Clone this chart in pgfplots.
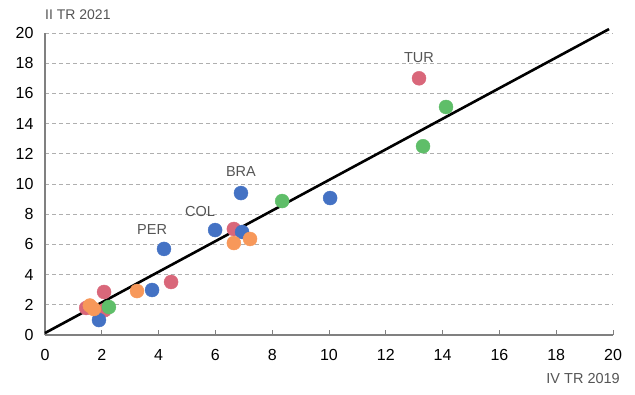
\documentclass[border=0pt]{standalone}
\usepackage{pgfplots}
\pgfplotsset{compat=1.18}
\usepackage{fontspec}
\setmainfont{Liberation Sans}
\usetikzlibrary{calc}
\definecolor{cred}{RGB}{217,103,122}
\definecolor{cblue}{RGB}{68,114,196}
\definecolor{cgreen}{RGB}{95,190,105}
\definecolor{corange}{RGB}{247,152,90}
\definecolor{axgray}{RGB}{128,128,128}
\definecolor{gridgray}{RGB}{175,175,175}
\definecolor{txtgray}{RGB}{85,85,85}
\begin{document}
\begin{tikzpicture}
\begin{axis}[
  name=ax,
  scale only axis,
  width=568pt, height=302pt,
  xmin=0, xmax=20, ymin=0, ymax=20,
  xtick={0,2,...,20}, ytick={0,2,...,20},
  axis x line*=bottom, axis y line*=left,
  axis line style={draw=axgray, line width=1.1pt, -},
  x tick style={draw=axgray, line width=0.8pt},
  tick align=inside,
  major tick length=5pt,
  y tick style={draw=none},
  ymajorgrids,
  grid style={draw=gridgray, dash pattern=on 4pt off 3pt, line width=0.7pt},
  tick label style={font=\fontsize{16}{18}\selectfont, text=black},
  /pgf/number format/assume math mode=true,
  xticklabel style={yshift=-11pt},
  yticklabel style={xshift=-8pt},
  clip=false,
  mark size=7pt,
]
\addplot[only marks, mark=*, color=cred] coordinates {
  (13.17,17.0) (6.65,7.02) (4.44,3.51) (2.08,2.85) (1.45,1.79) (2.1,1.65)
};
\addplot[only marks, mark=*, color=cblue] coordinates {
  (10.04,9.07) (6.90,9.40) (5.99,6.95) (6.94,6.82) (4.19,5.70) (3.77,2.98) (1.90,0.99)
};
\addplot[only marks, mark=*, color=cgreen] coordinates {
  (14.12,15.1) (13.31,12.5) (8.35,8.87) (2.25,1.85)
};
\addplot[only marks, mark=*, color=corange] coordinates {
  (6.65,6.09) (7.22,6.36) (3.24,2.91) (1.58,1.95) (1.72,1.72)
};
\addplot[black, line width=2.6pt, no marks] coordinates {(0,0.13) (19.86,20.26)};
\node[text=txtgray, font=\fontsize{14.5}{16}\selectfont] at (axis cs:13.17,18.4) {TUR};
\node[text=txtgray, font=\fontsize{14.5}{16}\selectfont] at (axis cs:6.9,10.85) {BRA};
\node[text=txtgray, font=\fontsize{14.5}{16}\selectfont] at (axis cs:5.46,8.2) {COL};
\node[text=txtgray, font=\fontsize{14.5}{16}\selectfont] at (axis cs:3.77,7.0) {PER};
\end{axis}
\node[anchor=west, text=txtgray, font=\fontsize{14}{16}\selectfont, inner sep=0pt] at ($(ax.north west)+(0pt,18pt)$) {II TR 2021};
\node[anchor=east, text=txtgray, font=\fontsize{14.5}{16}\selectfont, inner sep=0pt] at ($(ax.south east)+(7pt,-44pt)$) {IV TR 2019};
\pgfresetboundingbox
\path ($(ax.south west)+(-45pt,-59pt)$) rectangle ($(ax.north east)+(22pt,33pt)$);
\end{tikzpicture}
\end{document}
